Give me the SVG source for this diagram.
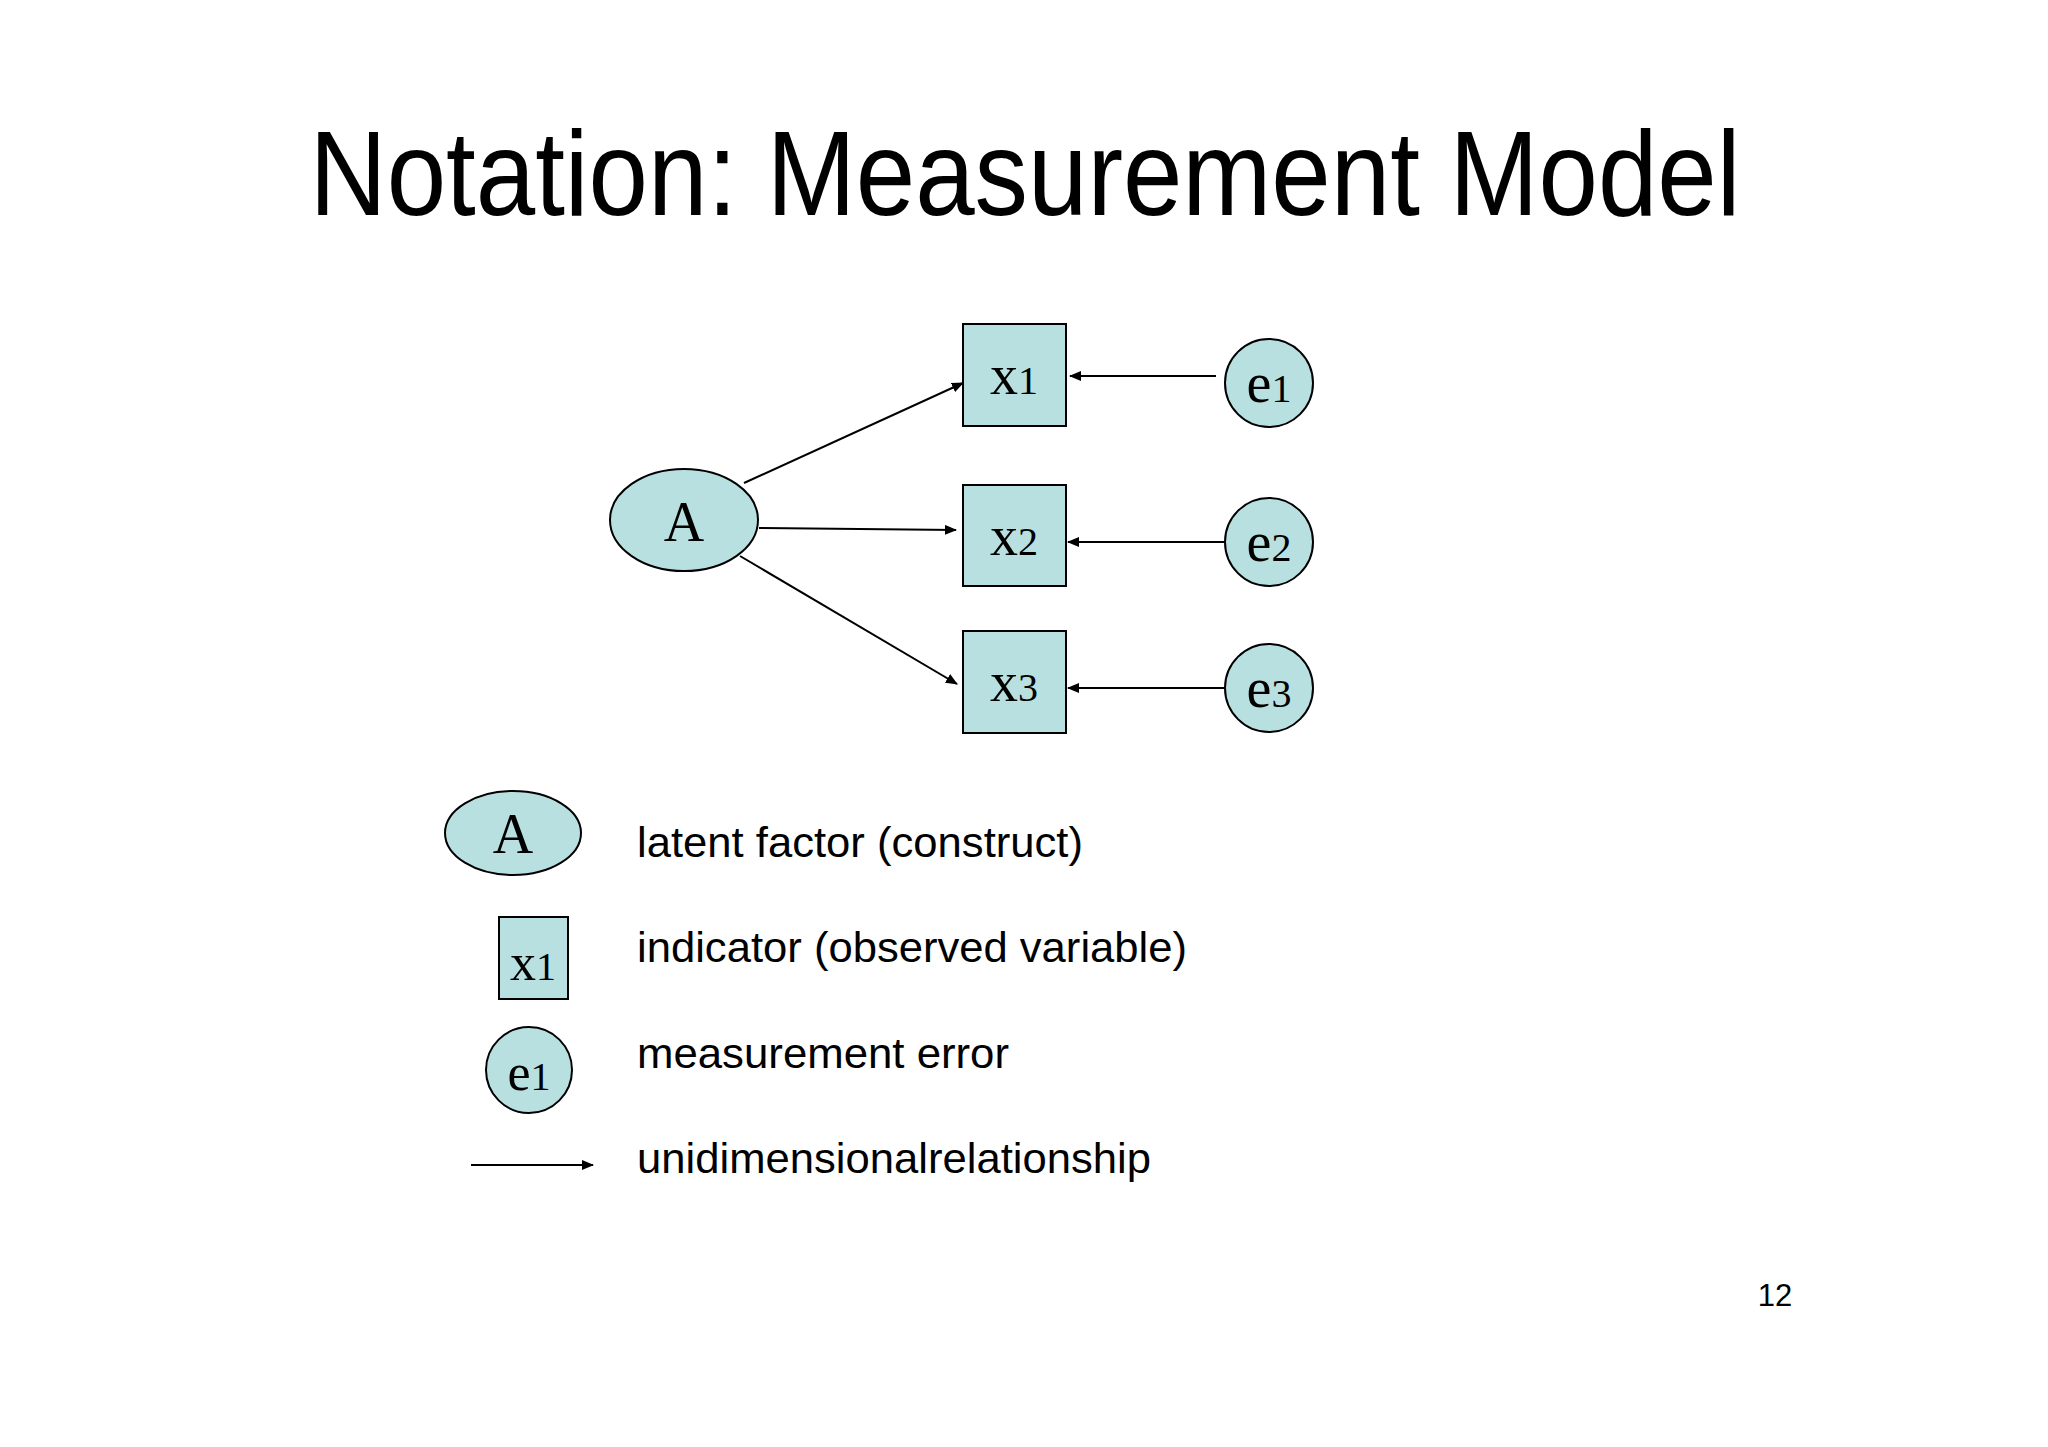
<svg xmlns="http://www.w3.org/2000/svg" width="2048" height="1447" viewBox="0 0 2048 1447">
<defs>
<marker id="ah" markerWidth="12" markerHeight="10" refX="11" refY="5" orient="auto" markerUnits="userSpaceOnUse"><path d="M0,0 L12,5 L0,10 z" fill="#000"/></marker>
<style>
.n{fill:#b9e0e0;stroke:#000;stroke-width:2}
.l{font-family:"Liberation Serif",serif;font-size:56px;fill:#000;text-anchor:middle}
.s{font-size:40px}
.t{font-family:"Liberation Sans",Arial,sans-serif;font-size:42px;fill:#000}
.c{stroke:#000;stroke-width:2;fill:none;marker-end:url(#ah)}
</style>
</defs>
<rect width="2048" height="1447" fill="#fff"/>
<text x="1025" y="215" class="t" style="font-size:120px" text-anchor="middle" textLength="1431" lengthAdjust="spacingAndGlyphs">Notation: Measurement Model</text>
<g id="A"><ellipse cx="684" cy="520" rx="74" ry="51" class="n"/><text x="684" y="541" class="l">A</text></g>
<g id="x1"><rect x="963" y="324" width="103" height="102" class="n"/><text x="1014" y="394" class="l">x<tspan class="s">1</tspan></text></g>
<g id="x2"><rect x="963" y="485" width="103" height="101" class="n"/><text x="1014" y="555" class="l">x<tspan class="s">2</tspan></text></g>
<g id="x3"><rect x="963" y="631" width="103" height="102" class="n"/><text x="1014" y="701" class="l">x<tspan class="s">3</tspan></text></g>
<g id="e1"><circle cx="1269" cy="383" r="44" class="n"/><text x="1269" y="402" class="l">e<tspan class="s">1</tspan></text></g>
<g id="e2"><circle cx="1269" cy="542" r="44" class="n"/><text x="1269" y="561" class="l">e<tspan class="s">2</tspan></text></g>
<g id="e3"><circle cx="1269" cy="688" r="44" class="n"/><text x="1269" y="707" class="l">e<tspan class="s">3</tspan></text></g>
<g id="connectors">
<line x1="744" y1="483" x2="963" y2="383" class="c"/>
<line x1="759" y1="528" x2="956" y2="530" class="c"/>
<line x1="740" y1="556" x2="957" y2="684" class="c"/>
<line x1="1216" y1="376" x2="1070" y2="376" class="c"/>
<line x1="1225" y1="542" x2="1068" y2="542" class="c"/>
<line x1="1225" y1="688" x2="1068" y2="688" class="c"/>
<line x1="471" y1="1165" x2="593" y2="1165" class="c"/>
</g>
<g id="legend">
<ellipse cx="513" cy="833" rx="68" ry="42" class="n"/><text x="513" y="853" class="l">A</text>
<rect x="499" y="917" width="69" height="82" class="n"/><text x="533" y="980" class="l" style="font-size:52px">x<tspan class="s">1</tspan></text>
<circle cx="529" cy="1070" r="43" class="n"/><text x="529" y="1090" class="l" style="font-size:52px">e<tspan class="s">1</tspan></text>
<text x="637" y="857" class="t" textLength="446" lengthAdjust="spacingAndGlyphs">latent factor (construct)</text>
<text x="637" y="962" class="t" textLength="550" lengthAdjust="spacingAndGlyphs">indicator (observed variable)</text>
<text x="637" y="1068" class="t" textLength="372" lengthAdjust="spacingAndGlyphs">measurement error</text>
<text x="637" y="1173" class="t" textLength="514" lengthAdjust="spacingAndGlyphs">unidimensionalrelationship</text>
</g>
<text x="1775" y="1306" class="t" style="font-size:31px" text-anchor="middle">12</text>
</svg>
